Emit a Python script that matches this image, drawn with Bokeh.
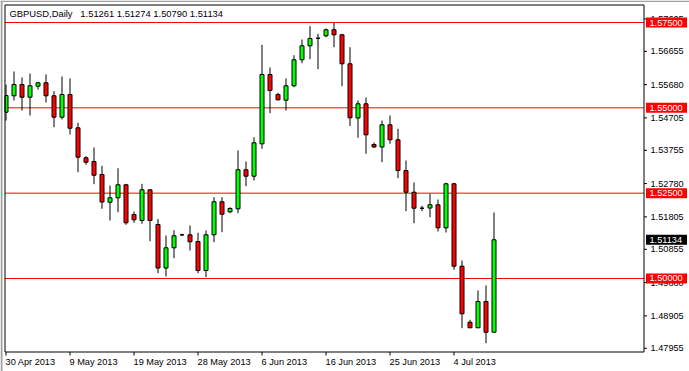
from bokeh.plotting import figure
from bokeh.models import ColumnDataSource, Range1d
from bokeh.core.properties import value
from bokeh.embed import file_html
from bokeh.resources import INLINE

# ---- data (daily GBPUSD bars, Sunday bars included) ----
dates = ["30 Apr", "1 May", "2 May", "3 May", "5 May", "6 May", "7 May", "8 May", "9 May", "10 May",
         "12 May", "13 May", "14 May", "15 May", "16 May", "17 May", "19 May", "20 May", "21 May", "22 May",
         "23 May", "24 May", "26 May", "27 May", "28 May", "29 May", "30 May", "31 May", "2 Jun", "3 Jun",
         "4 Jun", "5 Jun", "6 Jun", "7 Jun", "9 Jun", "10 Jun", "11 Jun", "12 Jun", "13 Jun", "14 Jun",
         "16 Jun", "17 Jun", "18 Jun", "19 Jun", "20 Jun", "21 Jun", "23 Jun", "24 Jun", "25 Jun", "26 Jun",
         "27 Jun", "28 Jun", "30 Jun", "1 Jul", "2 Jul", "3 Jul", "4 Jul", "5 Jul", "7 Jul", "8 Jul",
         "9 Jul", "10 Jul"]

opens = [1.54872, 1.55353, 1.55684, 1.55312, 1.55634, 1.55734, 1.55353, 1.54726, 1.55391, 1.54415,
         1.53536, 1.53428, 1.53047, 1.52235, 1.52364, 1.52745, 1.51875, 1.51699, 1.52599, 1.51582,
         1.50307, 1.50899, 1.51280, 1.51280, 1.51084, 1.50234, 1.51280, 1.52247, 1.51954, 1.52042,
         1.53185, 1.52997, 1.53946, 1.55977, 1.55391, 1.55224, 1.55646, 1.56408, 1.56818, 1.57040,
         1.57111, 1.57287, 1.57140, 1.56290, 1.54702, 1.55118, 1.53926, 1.53853, 1.54503, 1.54064,
         1.53164, 1.52528, 1.52059, 1.52065, 1.52159, 1.51485, 1.52774, 1.50360, 1.48719, 1.48555,
         1.49326, 1.48426]
highs = [1.55684, 1.56065, 1.55889, 1.56006, 1.55763, 1.55977, 1.55488, 1.55918, 1.55860, 1.54562,
         1.53583, 1.53838, 1.53302, 1.52725, 1.53231, 1.52774, 1.51963, 1.52774, 1.52599, 1.51743,
         1.51260, 1.51415, 1.51309, 1.51553, 1.51339, 1.51406, 1.52382, 1.52382, 1.52089, 1.53750,
         1.53428, 1.54140, 1.56847, 1.56182, 1.55441, 1.55860, 1.56542, 1.57002, 1.57392, 1.57169,
         1.57325, 1.57492, 1.57169, 1.56777, 1.55215, 1.55303, 1.53984, 1.54629, 1.54776, 1.54386,
         1.53457, 1.52812, 1.52130, 1.52481, 1.52314, 1.52804, 1.52804, 1.50527, 1.48790, 1.49648,
         1.49795, 1.51933]
lows = [1.54629, 1.55215, 1.54922, 1.54776, 1.55537, 1.55156, 1.54433, 1.54658, 1.54219, 1.53114,
        1.53331, 1.52763, 1.52042, 1.51699, 1.51942, 1.51573, 1.51632, 1.51602, 1.51093, 1.50155,
        1.50058, 1.50594, 1.51239, 1.50820, 1.50155, 1.50038, 1.51063, 1.51356, 1.51913, 1.51913,
        1.52704, 1.52871, 1.53800, 1.54843, 1.55215, 1.54922, 1.55605, 1.56308, 1.56425, 1.56132,
        1.57070, 1.56777, 1.55634, 1.54468, 1.54122, 1.53653, 1.53829, 1.53407, 1.53946, 1.52938,
        1.51972, 1.51620, 1.51972, 1.51796, 1.51377, 1.51347, 1.50255, 1.48543, 1.48555, 1.48555,
        1.48104, 1.48426]
closes = [1.55362, 1.55684, 1.55312, 1.55646, 1.55734, 1.55353, 1.54726, 1.55391, 1.54403, 1.53554,
          1.53407, 1.53026, 1.52241, 1.52364, 1.52745, 1.51632, 1.51720, 1.52599, 1.51699, 1.50307,
          1.50899, 1.51251, 1.51280, 1.51075, 1.50234, 1.51280, 1.52247, 1.51884, 1.52051, 1.53185,
          1.52997, 1.53976, 1.55977, 1.55508, 1.55236, 1.55646, 1.56408, 1.56818, 1.57032, 1.57040,
          1.57287, 1.57140, 1.56290, 1.54708, 1.55118, 1.54210, 1.53853, 1.54503, 1.54064, 1.53164,
          1.52528, 1.52059, 1.52059, 1.52159, 1.51485, 1.52774, 1.50360, 1.48965, 1.48555, 1.49326,
          1.48426, 1.51134]

y_ticks = [1.57605, 1.56655, 1.55680, 1.54705, 1.53755, 1.52780, 1.51805, 1.50855, 1.49880, 1.48905, 1.47955]
x_label_idx = [0, 8, 16, 24, 32, 40, 48, 56]
x_labels = ["30 Apr 2013", "9 May 2013", "19 May 2013", "28 May 2013",
            "6 Jun 2013", "16 Jun 2013", "25 Jun 2013", "4 Jul 2013"]
levels = [1.57500, 1.55000, 1.52500, 1.50000]
last_price = 1.51134
header = "GBPUSD,Daily\u00a0\u00a0\u00a01.51261 1.51274 1.50790 1.51134"

# ---- layout (screen geometry of the MT4-style window) ----
W, H = 689, 371
PX_PER_BAR = 8.0          # horizontal spacing of bars
X0_PX = 5.5               # pixel column of the first bar
PX_PER_UNIT = 1 / 0.000293
TOP_PRICE = 1.58145       # price at pixel row 0


def xd(px):
    return (px - X0_PX) / PX_PER_BAR


def yd(py):
    return TOP_PRICE - py / PX_PER_UNIT


BOX_L, BOX_R, BOX_T, BOX_B = xd(4.5), xd(643.5), yd(4.5), yd(351.5)
FONT = value("Liberation Sans")
FS = value("9.4px")
FS_AX = value("9.2px")

idx = list(range(len(opens)))
tops = [max(o, c) for o, c in zip(opens, closes)]
bottoms = [min(o, c) for o, c in zip(opens, closes)]
colors = ["#00FF00" if c > o else ("#FF0000" if c < o else "#000000") for o, c in zip(opens, closes)]
lefts = [max(i - 0.25, BOX_L) for i in idx]
rights = [i + 0.25 for i in idx]

src = ColumnDataSource(dict(x=idx, high=highs, low=lows, top=tops, bottom=bottoms,
                            left=lefts, right=rights, color=colors, date=dates))

p = figure(width=W, height=H, x_range=Range1d(xd(0), xd(W)), y_range=Range1d(yd(H), yd(0)),
           x_axis_type=None, y_axis_type=None, toolbar_location=None, output_backend="svg",
           min_border=0)
p.grid.visible = False
p.outline_line_color = None
p.background_fill_color = "white"
p.border_fill_color = "white"

# window edges (light grey, top and left)
p.quad(left=[xd(0)], right=[xd(2)], top=[yd(0)], bottom=[yd(H)], fill_color="#A0A0A0", line_color=None)
p.quad(left=[xd(0)], right=[xd(W)], top=[yd(0)], bottom=[yd(1.5)], fill_color="#A0A0A0", line_color=None)

# horizontal price levels
p.segment(x0=[BOX_L] * len(levels), y0=levels, x1=[BOX_R] * len(levels), y1=levels,
          line_color="#FF0000", line_width=1)

# candles
p.segment(x0="x", y0="low", x1="x", y1="high", source=src, line_color="black", line_width=1)
p.quad(left="left", right="right", top="top", bottom="bottom", source=src,
       fill_color="color", line_color="black", line_width=1)

# chart box
p.quad(left=[BOX_L], right=[BOX_R], top=[BOX_T], bottom=[BOX_B], fill_color=None,
       line_color="black", line_width=1)

# right price scale: tick marks + labels
n = len(y_ticks)
p.segment(x0=[BOX_R] * n, y0=y_ticks, x1=[xd(646.5)] * n, y1=y_ticks, line_color="black", line_width=1)
p.text(x=[xd(650)] * n, y=y_ticks, text=[f"{v:.5f}" for v in y_ticks],
       text_font=FONT, text_font_size=FS_AX, text_color="black",
       text_align="left", text_baseline="middle")

# bottom time scale: tick marks + labels
m = len(x_label_idx)
p.segment(x0=x_label_idx, y0=[BOX_B] * m, x1=x_label_idx,
          y1=[yd(355)] * m, line_color="black", line_width=1)
p.text(x=[i - 0.06 for i in x_label_idx], y=[yd(361)] * m, text=x_labels,
       text_font=FONT, text_font_size=FS_AX, text_color="black",
       text_align="left", text_baseline="middle")

# price tags
tag_vals = levels + [last_price]
tag_cols = ["#FF0000"] * len(levels) + ["#000000"]
p.rect(x=[xd(666)] * len(tag_vals), y=tag_vals, width=41, height=10,
       width_units="screen", height_units="screen", fill_color=tag_cols, line_color=None)
p.text(x=[xd(649)] * len(tag_vals), y=tag_vals, text=[f"{v:.5f}" for v in tag_vals],
       text_font=FONT, text_font_size=FS_AX, text_color="white",
       text_align="left", text_baseline="middle")

# header
p.text(x=[xd(9)], y=[yd(13)], text=[header], text_font=FONT, text_font_size=FS,
       text_color="black", text_align="left", text_baseline="middle")

open("out.html", "w").write(file_html(p, INLINE))
